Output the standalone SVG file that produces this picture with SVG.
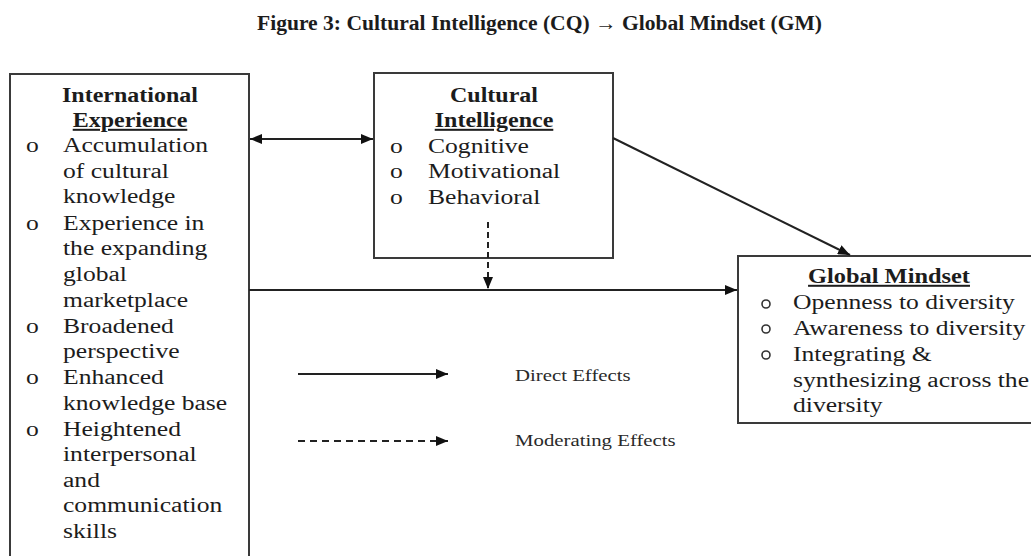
<svg xmlns="http://www.w3.org/2000/svg" width="1031" height="556" viewBox="0 0 1031 556">
<style>
.t{font-family:"Liberation Serif","Times New Roman",serif;font-size:20px;fill:#1c1c1c}
.b{font-weight:bold}
.u{text-decoration:underline}
.box{fill:#fff;stroke:#3a3a3a;stroke-width:2}
.ln{stroke:#222;stroke-width:2;fill:none}
.leg{font-family:"Liberation Serif","Times New Roman",serif;font-size:16px;fill:#2a2a2a}
</style>
<defs>
<marker id="ah" viewBox="0 0 12 10" refX="12" refY="5" markerWidth="12" markerHeight="10" markerUnits="userSpaceOnUse" orient="auto-start-reverse">
<path d="M0,0 L12,5 L0,10 Z" fill="#111"/>
</marker>
</defs>
<rect width="1031" height="556" fill="#fff"/>
<text class="t b" font-size="17" x="257" y="30" textLength="565" lengthAdjust="spacingAndGlyphs">Figure 3: Cultural Intelligence (CQ) → Global Mindset (GM)</text>

<g id="international-experience">
<rect class="box" x="10" y="74" width="239" height="540"/>
<text class="t b" text-anchor="middle" transform="translate(130,102) scale(1.2,1)">International</text>
<text class="t b u" text-anchor="middle" transform="translate(130,127) scale(1.2,1)">Experience</text>
<g class="t">
<text transform="translate(26,152) scale(1.28,1)">o</text>
<text transform="translate(63,152) scale(1.28,1)">Accumulation</text>
<text transform="translate(63,178) scale(1.28,1)">of cultural</text>
<text transform="translate(63,203) scale(1.28,1)">knowledge</text>
<text transform="translate(26,230) scale(1.28,1)">o</text>
<text transform="translate(63,230) scale(1.28,1)">Experience in</text>
<text transform="translate(63,255) scale(1.28,1)">the expanding</text>
<text transform="translate(63,281) scale(1.28,1)">global</text>
<text transform="translate(63,307) scale(1.28,1)">marketplace</text>
<text transform="translate(26,333) scale(1.28,1)">o</text>
<text transform="translate(63,333) scale(1.28,1)">Broadened</text>
<text transform="translate(63,358) scale(1.28,1)">perspective</text>
<text transform="translate(26,384) scale(1.28,1)">o</text>
<text transform="translate(63,384) scale(1.28,1)">Enhanced</text>
<text transform="translate(63,410) scale(1.28,1)">knowledge base</text>
<text transform="translate(26,436) scale(1.28,1)">o</text>
<text transform="translate(63,436) scale(1.28,1)">Heightened</text>
<text transform="translate(63,461) scale(1.28,1)">interpersonal</text>
<text transform="translate(63,487) scale(1.28,1)">and</text>
<text transform="translate(63,512) scale(1.28,1)">communication</text>
<text transform="translate(63,538) scale(1.28,1)">skills</text>
</g>
</g>

<g id="cultural-intelligence">
<rect class="box" x="374" y="73" width="239" height="185"/>
<text class="t b" text-anchor="middle" transform="translate(494,102) scale(1.2,1)">Cultural</text>
<text class="t b u" text-anchor="middle" transform="translate(494,127) scale(1.2,1)">Intelligence</text>
<g class="t">
<text transform="translate(390,153) scale(1.28,1)">o</text>
<text transform="translate(428,153) scale(1.28,1)">Cognitive</text>
<text transform="translate(390,178) scale(1.28,1)">o</text>
<text transform="translate(428,178) scale(1.28,1)">Motivational</text>
<text transform="translate(390,204) scale(1.28,1)">o</text>
<text transform="translate(428,204) scale(1.28,1)">Behavioral</text>
</g>
</g>

<g id="global-mindset">
<rect class="box" x="738" y="256" width="300" height="167"/>
<text class="t b u" text-anchor="middle" transform="translate(889,283) scale(1.22,1)">Global Mindset</text>
<g class="t">
<circle cx="766" cy="304" r="4" fill="none" stroke="#333" stroke-width="1.6"/>
<text transform="translate(793,309) scale(1.28,1)">Openness to diversity</text>
<circle cx="766" cy="329" r="4" fill="none" stroke="#333" stroke-width="1.6"/>
<text transform="translate(793,335) scale(1.28,1)">Awareness to diversity</text>
<circle cx="766" cy="355" r="4" fill="none" stroke="#333" stroke-width="1.6"/>
<text transform="translate(793,361) scale(1.28,1)">Integrating &amp;</text>
<text transform="translate(793,387) scale(1.28,1)">synthesizing across the</text>
<text transform="translate(793,412) scale(1.28,1)">diversity</text>
</g>
</g>

<g id="connectors">
<line class="ln" x1="250" y1="139" x2="373" y2="139" marker-start="url(#ah)" marker-end="url(#ah)"/>
<line class="ln" x1="613" y1="138" x2="850" y2="255" marker-end="url(#ah)"/>
<line class="ln" x1="249" y1="290" x2="737" y2="290" marker-end="url(#ah)"/>
<line class="ln" x1="488" y1="222" x2="488" y2="289" stroke-dasharray="6,4" marker-end="url(#ah)"/>
</g>

<g id="legend">
<line class="ln" x1="298" y1="374" x2="448" y2="374" marker-end="url(#ah)"/>
<line class="ln" x1="298" y1="441" x2="448" y2="441" stroke-dasharray="7,5" marker-end="url(#ah)"/>
<text class="leg" transform="translate(515,381) scale(1.3,1)">Direct Effects</text>
<text class="leg" transform="translate(515,446) scale(1.3,1)">Moderating Effects</text>
</g>
</svg>
